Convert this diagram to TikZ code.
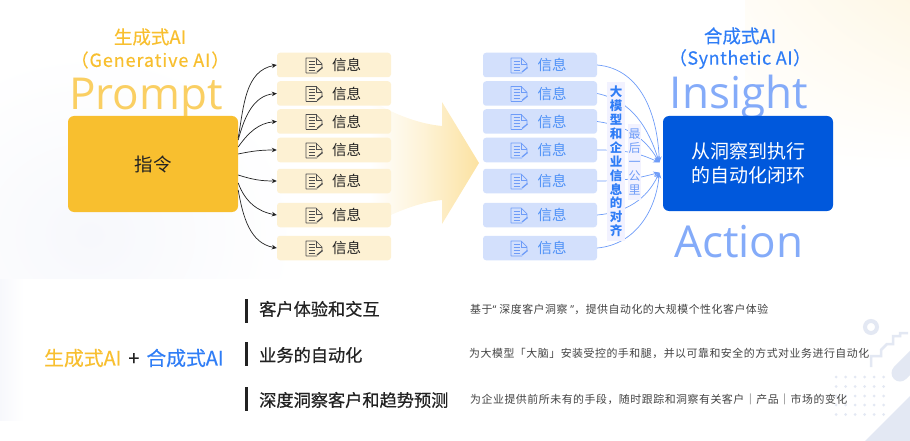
\documentclass[tikz,border=0pt]{standalone}
\usepackage{fontspec}
\usetikzlibrary{arrows.meta,fadings,calc,shadings}
\setmainfont{Noto Sans CJK SC}
\newfontfamily\descfont[LetterSpace=5]{Noto Sans CJK SC}
\newfontfamily\latinfont{Open Sans}
\newfontfamily\medfont[FakeBold=0.6]{Noto Sans CJK SC}
\newfontfamily\titlefont[FakeBold=0.35]{Noto Sans CJK SC}
\newfontfamily\titlewide[FakeBold=0.35,LetterSpace=5]{Noto Sans CJK SC}
\newfontfamily\titlewider[FakeBold=0.35,LetterSpace=3]{Noto Sans CJK SC}
\definecolor{amber}{HTML}{F8BF2F}
\definecolor{amberpale}{HTML}{FDF1D3}
\definecolor{azure}{HTML}{0058DC}
\definecolor{bluetxt}{HTML}{2F7DF6}
\definecolor{bluepale}{HTML}{D3E0FC}
\definecolor{bluesoft}{HTML}{6E9CF8}
\definecolor{inktxt}{HTML}{222222}
\definecolor{decor}{HTML}{E3E8F3}
\definecolor{haze}{HTML}{F7F8FC}
\tikzset{
  x=1pt,y=-1pt,
  infobox/.style={rounded corners=3pt,minimum width=114pt,minimum height=24.5pt,inner sep=0pt},
  yinfo/.style={infobox,fill=amberpale},
  binfo/.style={infobox,fill=bluepale},
  infotext/.style={font=\fontsize{14.5}{14.5}\selectfont,inner sep=0pt},
  darrow/.style={draw=inktxt,line width=.7pt,-{Stealth[length=5pt,width=4.5pt]}},
  barrow/.style={draw=bluesoft,line width=.7pt},
  barrowtip/.style={barrow,-{Stealth[length=6pt,width=5pt]}},
  ghost/.style={font=\latinfont\fontsize{44}{44}\selectfont,inner sep=0pt,anchor=base},
  headline/.style={font=\medfont\fontsize{17.2}{17.2}\selectfont,text=inktxt,anchor=west,inner sep=0pt},
  desc/.style={font=\descfont\fontsize{10.9}{11}\selectfont,text=inktxt!85,anchor=west,inner sep=0pt},
  sidebar/.style={fill=inktxt,minimum width=3pt,inner sep=0pt},
  docicon/.pic={
    \draw[#1,line width=.7pt,line join=round] (-8,8) -- (-8,-7) -- (2,-7) -- (8,-1) -- (8,3) (-8,8) -- (3,8);
    \draw[#1,line width=.7pt] (2,-7) -- (2,-1) -- (8,-1);
    \foreach \yy in {-4,-1,2,5}{\draw[#1,line width=.8pt] (-5.5,\yy) -- (1,\yy);}
    \draw[#1,line width=1.3pt] (3,7) -- (8.5,2.5);
  },
}
\begin{document}
\begin{tikzpicture}
\useasboundingbox (0,0) rectangle (910,441);
% backgrounds
\shade[inner color=haze,outer color=white] (-120,50) rectangle (300,420);
\fill[white] (24,279) rectangle (910,441);
\shade[left color=haze,right color=white] (0,279) rectangle (24,420);
\shade[lower left=white,lower right=white,upper left=amber!4!white,upper right=amber!12!white] (745,0) rectangle (910,170);
% decoration
\draw[decor,line width=4pt] (871,327) circle (6pt);
\draw[decor,line width=2.5pt] (871,367) -- (871,356) -- (881,356) -- (881,350) -- (887,344) -- (893,344) -- (893,336) -- (900,336) -- (900,333) -- (908,333);
\draw[decor,line width=17pt,line cap=round] (900,373) -- (925,348);
\fill[decor] (865,441) -- (910,396) -- (910,441) -- cycle;
\foreach \cx in {836,845.5,855,864.5,874,883.5}{\foreach \cy in {377,386.5,396,405,414.5}{\fill[decor] (\cx,\cy) circle (1.5pt);}}
% titles
\node[text=amber,font=\titlefont\fontsize{18.5}{18.5}\selectfont,inner sep=0pt] (t1) at (150,37) {生成式AI};
\node[text=amber,font=\titlewide\fontsize{18}{18}\selectfont,inner sep=0pt] (t2) at (150,60) {（Generative AI）};
\node[text=bluetxt,font=\titlefont\fontsize{18.5}{18.5}\selectfont,inner sep=0pt] (t3) at (740,36) {合成式AI};
\node[text=bluetxt,font=\titlewider\fontsize{18}{18}\selectfont,inner sep=0pt] (t4) at (740,59) {（Synthetic AI）};
\node[ghost,text=amber!75!white] (gp) at (146,110) {Prompt};
\node[ghost,text=bluesoft!85!white] (gi) at (739,109) {Insight};
\node[ghost,text=bluesoft!85!white] (ga) at (739,257) {Action};
% main boxes
\node[fill=amber,rounded corners=6pt,minimum width=170pt,minimum height=96pt,inner sep=0pt,font=\fontsize{18.5}{18.5}\selectfont,text=inktxt] (p) at (153,164) {指令};
\node[fill=azure,rounded corners=6pt,minimum width=170pt,minimum height=95pt,inner sep=0pt,align=center,font=\fontsize{19}{24}\selectfont,text=white] (b) at (748,163.5) {从洞察到执行\\的自动化闭环};
% big arrow
\shade[left color=white,right color=amber!45!white,middle color=amber!20!white]
  (370,100) .. controls (395,115) and (420,124) .. (442,126) -- (442,102) -- (479,163) -- (442,224) -- (442,200) .. controls (420,202) and (395,212) .. (370,225) -- cycle;
% info boxes
\foreach \nm/\yy in {1/65,2/93.5,3/121.5,4/150,5/181,6/215,7/248}{
  \node[yinfo] (y\nm) at (334,\yy) {};
  \node[binfo] (z\nm) at (540,\yy) {};
  \pic at (314,\yy) {docicon={draw=inktxt!80}};
  \pic at (519,\yy) {docicon={draw=bluesoft}};
  \node[infotext,text=inktxt] (yt\nm) at (346.5,\yy) {信息};
  \node[infotext,text=bluetxt!85] (zt\nm) at (552,\yy) {信息};
}
% left connectors
\draw[darrow] ([yshift=26pt]p.east) to[out=80,in=190] (y1.west);
\draw[darrow] ([yshift=24pt]p.east) to[out=75,in=185] (y2.west);
\draw[darrow] ([yshift=17pt]p.east) to[out=55,in=185] (y3.west);
\draw[darrow] ([yshift=10pt]p.east) to[out=12,in=180] (y4.west);
\draw[darrow] ([yshift=-11pt]p.east) to[out=-18,in=180] (y5.west);
\draw[darrow] ([yshift=-19pt]p.east) to[out=-70,in=170] (y6.west);
\draw[darrow] ([yshift=-26pt]p.east) to[out=-80,in=170] (y7.west);
% right connectors
\coordinate (m1) at ([xshift=-3.5pt,yshift=1pt]b.west);
\coordinate (m2) at ([xshift=-3.5pt,yshift=-9pt]b.west);
\draw[barrowtip] (z1.east) to[out=-5,in=92] (m1);
\draw[barrowtip] (z2.east) to[out=-12,in=108] (m1);
\draw[barrowtip] (z3.east) to[out=-8,in=120] (m1);
\draw[barrowtip] (z4.east) to[out=0,in=155] (m1);
\draw[barrowtip] (z5.east) to[out=0,in=195] (m2);
\draw[barrowtip] (z6.east) to[out=5,in=245] (m2);
\draw[barrowtip] (z7.east) to[out=5,in=265] (m2);
% vertical labels
\node[fill=blue!5!white,minimum width=18pt,minimum height=159pt,inner sep=0pt,align=center,font=\bfseries\fontsize{12.5}{13.9}\selectfont,text=bluetxt] (l1) at (616,161.5) {大\\模\\型\\和\\企\\业\\信\\息\\的\\对\\齐};
\node[fill=blue!5!white,minimum width=13pt,minimum height=76pt,inner sep=0pt,align=center,font=\fontsize{12}{13.8}\selectfont,text=bluesoft] (l2) at (634.5,162) {最\\后\\一\\公\\里};
% bottom
\node[inner sep=0pt,anchor=west,font=\titlefont\fontsize{19.8}{19.8}\selectfont] (sum) at (44,358) {\textcolor{amber}{生成式AI}\hspace{7pt}\textcolor{inktxt}{+}\hspace{7pt}\textcolor{bluetxt}{合成式AI}};
\node[sidebar,minimum height=24pt] (s1) at (246.5,311) {};
\node[sidebar,minimum height=24pt] (s2) at (246.5,353.5) {};
\node[sidebar,minimum height=24pt] (s3) at (246.5,399) {};
\node[headline] (h1) at (259,309) {客户体验和交互};
\node[headline] (h2) at (259,355) {业务的自动化};
\node[headline] (h3) at (259,400) {深度洞察客户和趋势预测};
\node[desc] (d1) at (470,309) {基于{\latinfont “}\hspace{3pt}深度客户洞察\hspace{3pt}{\latinfont ”}，提供自动化的大规模个性化客户体验};
\node[desc] (d2) at (469,353) {为大模型「大脑」安装受控的手和腿，并以可靠和安全的方式对业务进行自动化};
\node[desc] (d3) at (470,399) {为企业提供前所未有的手段，随时跟踪和洞察有关客户｜产品｜市场的变化};
\end{tikzpicture}
\end{document}
